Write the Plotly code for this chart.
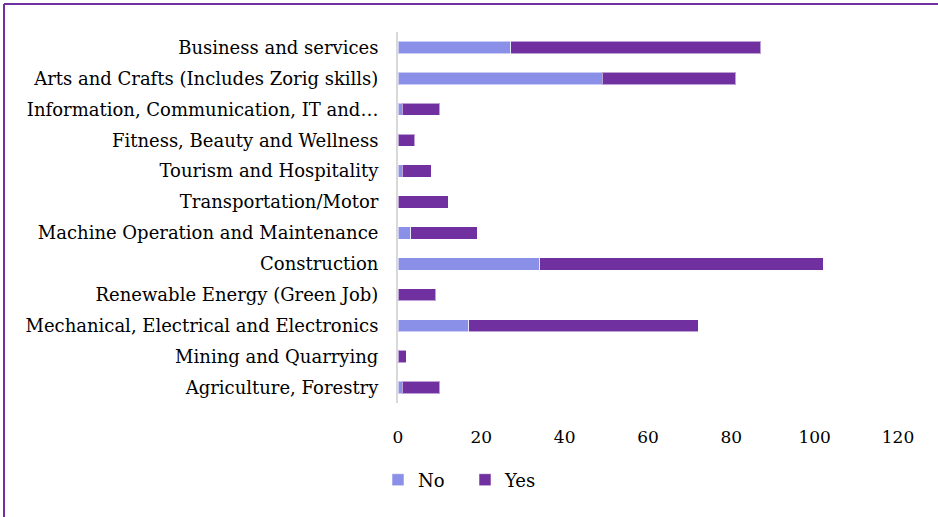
import plotly.graph_objects as go

# Sectors listed bottom-to-top so the first entry sits at the bottom of the chart
sectors = [
    "Agriculture, Forestry",
    "Mining and Quarrying",
    "Mechanical, Electrical and Electronics",
    "Renewable Energy (Green Job)",
    "Construction",
    "Machine Operation and Maintenance",
    "Transportation/Motor",
    "Tourism and Hospitality",
    "Fitness, Beauty and Wellness",
    "Information, Communication, IT and…",
    "Arts and Crafts (Includes Zorig skills)",
    "Business and services",
]
no_counts = [1, 0, 17, 0, 34, 3, 0, 1, 0, 1, 49, 27]
yes_counts = [9, 2, 55, 9, 68, 16, 12, 7, 4, 9, 32, 60]
x_ticks = [0, 20, 40, 60, 80, 100, 120]

FONT = "DejaVu Serif"
outline = dict(color="rgba(255,255,255,0.55)", width=1)

fig = go.Figure()
fig.add_trace(go.Bar(
    y=sectors, x=no_counts, name="No", orientation="h",
    marker=dict(color="#8A8FE8", line=outline),
))
fig.add_trace(go.Bar(
    y=sectors, x=yes_counts, name="Yes", orientation="h",
    marker=dict(color="#7030A0", line=outline),
))

ml, mr, mt, mb = 398, 40, 32, 114
W, H = 938, 517
pw, ph = W - ml - mr, H - mt - mb

def px_x(p):
    return (p - ml) / pw

def px_y(p):
    return 1 - (p - mt) / ph

fig.update_layout(
    width=W, height=H,
    margin=dict(l=ml, r=mr, t=mt, b=mb),
    barmode="stack",
    bargap=0.6,
    plot_bgcolor="white",
    paper_bgcolor="white",
    font=dict(family=FONT, size=18, color="#000000"),
    xaxis=dict(
        range=[0, 120], tickvals=x_ticks, showgrid=False, zeroline=False,
        showline=False, ticks="", ticklabelstandoff=22,
        tickfont=dict(family=FONT, size=17),
    ),
    yaxis=dict(
        showline=True, linecolor="#D9D9D9", linewidth=2, ticks="",
        showgrid=False, ticklabelstandoff=14,
        tickfont=dict(family=FONT, size=18),
    ),
    legend=dict(
        orientation="h", traceorder="normal",
        x=px_x(378), xanchor="left",
        y=px_y(480), yanchor="middle",
        font=dict(family=FONT, size=18), entrywidth=42,
        entrywidthmode="pixels", itemclick=False,
    ),
    shapes=[
        dict(type="line", xref="paper", yref="paper",
             x0=px_x(4), x1=px_x(W + 10), y0=px_y(4), y1=px_y(4),
             line=dict(color="#7030A0", width=2)),
        dict(type="line", xref="paper", yref="paper",
             x0=px_x(4), x1=px_x(4), y0=px_y(4), y1=px_y(H + 10),
             line=dict(color="#7030A0", width=2)),
    ],
)

fig.write_html("out.html")
